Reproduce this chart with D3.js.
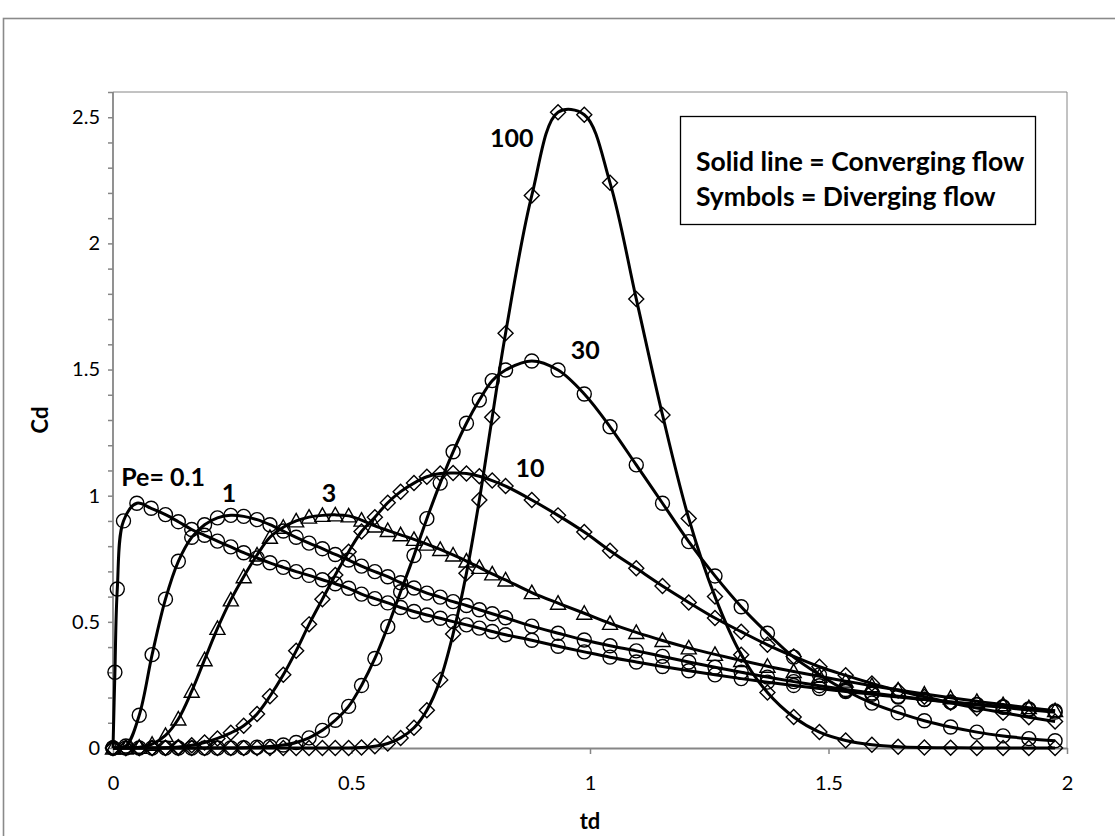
<!DOCTYPE html>
<html>
<head>
<meta charset="utf-8">
<script src="https://cdn.jsdelivr.net/npm/d3@7"></script>
<style>
  html, body { margin: 0; padding: 0; background: #ffffff; }
  svg { display: block; }
</style>
</head>
<body>
<svg id="chart" width="1115" height="836"></svg>
<script>
// ---------------- DATA ----------------
// dimensionless time grid at which the symbols (diverging flow) are plotted
const tdGrid = [0, 0.027, 0.055, 0.082, 0.110, 0.137, 0.165, 0.192, 0.219, 0.247,
  0.274, 0.302, 0.329, 0.357, 0.384, 0.411, 0.439, 0.466, 0.494, 0.521,
  0.549, 0.576, 0.603, 0.631, 0.658, 0.686, 0.713, 0.741, 0.768, 0.795,
  0.823, 0.878, 0.933, 0.988, 1.042, 1.097, 1.152, 1.207, 1.262, 1.317,
  1.372, 1.427, 1.481, 1.536, 1.591, 1.646, 1.701, 1.756, 1.811, 1.866,
  1.920, 1.975];

// Pe = 0.1 has extra early points
const tdPe01 = [0, 0.004, 0.009, 0.022, 0.050, 0.080, 0.110, 0.137, 0.165, 0.192, 0.219, 0.247,
  0.274, 0.302, 0.329, 0.357, 0.384, 0.411, 0.439, 0.466, 0.494, 0.521,
  0.549, 0.576, 0.603, 0.631, 0.658, 0.686, 0.713, 0.741, 0.768, 0.795,
  0.823, 0.878, 0.933, 0.988, 1.042, 1.097, 1.152, 1.207, 1.262, 1.317,
  1.372, 1.427, 1.481, 1.536, 1.591, 1.646, 1.701, 1.756, 1.811, 1.866,
  1.920, 1.975];

const cdPe01 = [0, 0.30, 0.63, 0.90, 0.97, 0.95, 0.925, 0.897, 0.866, 0.843, 0.820, 0.797,
  0.774, 0.753, 0.734, 0.716, 0.699, 0.684, 0.667, 0.651, 0.633, 0.610,
  0.592, 0.575, 0.557, 0.541, 0.527, 0.514, 0.501, 0.488, 0.475, 0.462,
  0.449, 0.427, 0.403, 0.381, 0.360, 0.341, 0.323, 0.306, 0.290, 0.275,
  0.261, 0.248, 0.236, 0.224, 0.213, 0.202, 0.192, 0.182, 0.173, 0.164,
  0.155, 0.147];

const cdPe1 = [0, 0.008, 0.13, 0.37, 0.59, 0.74, 0.835, 0.885, 0.912, 0.922,
  0.918, 0.905, 0.885, 0.860, 0.835, 0.812, 0.790, 0.767, 0.745, 0.721,
  0.699, 0.679, 0.655, 0.634, 0.614, 0.598, 0.580, 0.565, 0.548, 0.532,
  0.516, 0.483, 0.455, 0.428, 0.405, 0.385, 0.363, 0.341, 0.320, 0.300,
  0.281, 0.263, 0.247, 0.232, 0.218, 0.205, 0.193, 0.182, 0.171, 0.161,
  0.151, 0.142];

const cdPe3 = [0, 0, 0.003, 0.015, 0.05, 0.115, 0.225, 0.35, 0.474, 0.587,
  0.679, 0.765, 0.835, 0.875, 0.900, 0.915, 0.922, 0.924, 0.920, 0.903,
  0.880, 0.862, 0.845, 0.827, 0.808, 0.787, 0.765, 0.741, 0.716, 0.690,
  0.666, 0.616, 0.574, 0.534, 0.494, 0.458, 0.426, 0.397, 0.371, 0.347,
  0.324, 0.303, 0.284, 0.265, 0.247, 0.230, 0.214, 0.199, 0.185, 0.172,
  0.160, 0.148];

const cdPe10 = [0, 0, 0, 0, 0.001, 0.004, 0.011, 0.022, 0.038, 0.060,
  0.088, 0.135, 0.205, 0.290, 0.385, 0.490, 0.590, 0.686, 0.778, 0.858,
  0.915, 0.972, 1.016, 1.050, 1.075, 1.088, 1.090, 1.088, 1.077, 1.060,
  1.038, 0.983, 0.922, 0.856, 0.782, 0.712, 0.642, 0.577, 0.515, 0.461,
  0.409, 0.363, 0.322, 0.288, 0.256, 0.228, 0.203, 0.179, 0.158, 0.140,
  0.122, 0.105];

const cdPe30 = [0, 0, 0, 0, 0, 0, 0, 0, 0, 0,
  0.001, 0.003, 0.006, 0.012, 0.022, 0.040, 0.070, 0.110, 0.165, 0.248,
  0.355, 0.481, 0.619, 0.763, 0.909, 1.050, 1.174, 1.287, 1.379, 1.456,
  1.498, 1.534, 1.498, 1.403, 1.273, 1.122, 0.970, 0.818, 0.682, 0.560,
  0.455, 0.360, 0.290, 0.228, 0.178, 0.140, 0.108, 0.083, 0.063, 0.048,
  0.037, 0.029];

const cdPe100 = [0, 0, 0, 0, 0, 0, 0, 0, 0, 0,
  0, 0, 0, 0, 0, 0, 0, 0, 0, 0.002,
  0.007, 0.018, 0.040, 0.080, 0.150, 0.270, 0.452, 0.693, 0.983, 1.311,
  1.644, 2.19, 2.52, 2.51, 2.24, 1.78, 1.32, 0.91, 0.60, 0.37,
  0.22, 0.123, 0.063, 0.030, 0.013, 0.005, 0.002, 0.001, 0, 0,
  0, 0];

const pecletNumbers = ["0.1", "1", "3", "10", "30", "100"];
const markerTypes = ["circle", "circle", "triangle", "diamond", "circle", "diamond"];

// curve labels: text and anchor in data units (td, Cd)
const curveLabelText = ["Pe= 0.1", "1", "3", "10", "30", "100"];
const curveLabelTd = [0.105, 0.243, 0.453, 0.874, 0.990, 0.836];
const curveLabelCd = [1.040, 0.975, 0.975, 1.074, 1.542, 2.382];

const xTicks = [0, 0.5, 1, 1.5, 2];
const xTickLabels = ["0", "0.5", "1", "1.5", "2"];
const yTicks = [0, 0.5, 1, 1.5, 2, 2.5];
const yTickLabels = ["0", "0.5", "1", "1.5", "2", "2.5"];
const yMinorTicks = [0.1, 0.2, 0.3, 0.4, 0.6, 0.7, 0.8, 0.9, 1.1, 1.2, 1.3, 1.4,
  1.6, 1.7, 1.8, 1.9, 2.1, 2.2, 2.3, 2.4, 2.6];

const legendLines = ["Solid line = Converging flow", "Symbols = Diverging flow"];
const xTitle = "td";
const yTitle = "Cd";

// ---------------- BUILD ----------------
const seriesValues = [cdPe01, cdPe1, cdPe3, cdPe10, cdPe30, cdPe100];
const seriesTd = [tdPe01, tdGrid, tdGrid, tdGrid, tdGrid, tdGrid];
const series = pecletNumbers.map((pe, i) => ({
  pe, marker: markerTypes[i],
  points: seriesValues[i].map((c, k) => [seriesTd[i][k], c])
}));

const W = 1115, H = 836;
const plot = { left: 113, right: 1067, top: 92, bottom: 748 };
const FONT = "Lato, 'Open Sans', 'DejaVu Sans', sans-serif";
const GRAY = "#868686";

const svg = d3.select("#chart");
const x = d3.scaleLinear().domain([0, 2]).range([plot.left, plot.right]);
const y = d3.scaleLinear().domain([0, 2.6]).range([plot.bottom, plot.top]);

// chart outer border
svg.append("rect")
  .attr("x", 3.5).attr("y", 18.5)
  .attr("width", W + 10).attr("height", H + 10)
  .attr("fill", "none").attr("stroke", "#8a8a8a").attr("stroke-width", 1.6);

// plot area border (top and right)
svg.append("path")
  .attr("d", `M${plot.left},${plot.top}H${plot.right}V${plot.bottom}`)
  .attr("fill", "none").attr("stroke", GRAY).attr("stroke-width", 1);

// y minor ticks
const gyMinor = svg.append("g").attr("transform", `translate(${plot.left},0)`)
  .call(d3.axisLeft(y).tickValues(yMinorTicks).tickSize(5).tickSizeOuter(0).tickFormat(""));
gyMinor.select(".domain").remove();

// y major axis
const gy = svg.append("g").attr("transform", `translate(${plot.left},0)`)
  .call(d3.axisLeft(y).tickValues(yTicks).tickSize(5).tickSizeOuter(0).tickPadding(8)
    .tickFormat((d, i) => yTickLabels[i]));

// x axis
const gx = svg.append("g").attr("transform", `translate(0,${plot.bottom})`)
  .call(d3.axisBottom(x).tickValues(xTicks).tickSize(6).tickSizeOuter(0).tickPadding(22)
    .tickFormat((d, i) => xTickLabels[i]));

// extend y-axis domain line to plot top
gy.select(".domain").attr("d", `M0,${plot.bottom}V${plot.top}`);

[gy, gx, gyMinor].forEach(g => {
  g.selectAll("line").attr("stroke", GRAY).attr("stroke-width", 1.5);
  g.selectAll(".domain").attr("stroke", GRAY).attr("stroke-width", 1.8);
  g.selectAll("text").attr("fill", "#000").style("font-family", FONT).style("font-size", "20px");
});

// axis titles
svg.append("text")
  .attr("x", (plot.left + plot.right) / 2).attr("y", 829)
  .attr("text-anchor", "middle")
  .style("font-family", FONT).style("font-size", "22px").style("font-weight", "bold")
  .text(xTitle);
svg.append("text")
  .attr("transform", `translate(48,${(plot.top + plot.bottom) / 2}) rotate(-90)`)
  .attr("text-anchor", "middle")
  .style("font-family", FONT).style("font-size", "22px").style("font-weight", "bold")
  .text(yTitle);

// lines (converging flow)
const line = d3.line()
  .x(d => x(d[0])).y(d => y(d[1]))
  .curve(d3.curveCatmullRom.alpha(0.5));
const gLines = svg.append("g");
series.forEach(s => {
  gLines.append("path")
    .attr("d", line(s.points))
    .attr("fill", "none").attr("stroke", "#000").attr("stroke-width", 3)
    .attr("stroke-linejoin", "round");
});

// symbols (diverging flow)
function markerPath(type) {
  if (type === "circle") return "M7,0A7,7 0 1,1 -7,0A7,7 0 1,1 7,0Z";
  if (type === "diamond") return "M0,-7.5L7.5,0L0,7.5L-7.5,0Z";
  return "M0,-7.5L7.5,6L-7.5,6Z";
}
const gMarks = svg.append("g");
series.forEach(s => {
  gMarks.append("g").selectAll("path")
    .data(s.points)
    .join("path")
    .attr("transform", d => `translate(${x(d[0])},${y(d[1])})`)
    .attr("d", markerPath(s.marker))
    .attr("fill", "none").attr("stroke", "#000").attr("stroke-width", 1.4);
});

// curve labels
curveLabelText.forEach((t, i) => {
  svg.append("text")
    .attr("x", x(curveLabelTd[i])).attr("y", y(curveLabelCd[i]))
    .attr("text-anchor", "middle")
    .style("font-family", FONT).style("font-size", "25px").style("font-weight", "bold")
    .text(t);
});

// legend box
const lg = svg.append("g");
lg.append("rect")
  .attr("x", 680.5).attr("y", 116.5).attr("width", 355).attr("height", 108)
  .attr("fill", "#fff").attr("stroke", "#000").attr("stroke-width", 1.3);
legendLines.forEach((t, i) => {
  lg.append("text")
    .attr("x", 696).attr("y", 171 + i * 35)
    .style("font-family", FONT).style("font-size", "26.5px").style("font-weight", "bold")
    .text(t);
});
</script>
</body>
</html>
